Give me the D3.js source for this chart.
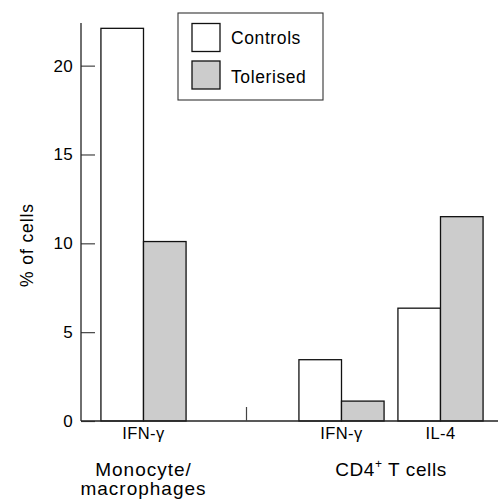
<!DOCTYPE html>
<html>
<head>
<meta charset="utf-8">
<script src="https://cdn.jsdelivr.net/npm/d3@7"></script>
<style>
  html, body { margin: 0; padding: 0; background: #fff; }
  svg text { font-family: "Liberation Sans", Arial, Helvetica, sans-serif; fill: #000; }
</style>
</head>
<body>
<script>
// ---- data ----
const slots = ["mono-IFN", "gap", "cd4-IFN", "cd4-IL4"];
const barSlots = ["mono-IFN", "cd4-IFN", "cd4-IL4"];
const slotLabels = ["IFN-γ", "", "IFN-γ", "IL-4"];
const seriesNames = ["Controls", "Tolerised"];
const controls = [22.1, 3.45, 6.35];
const tolerised = [10.1, 1.12, 11.5];
const yTicks = [0, 5, 10, 15, 20];
const seriesColors = ["#ffffff", "#cccccc"];

const W = 498, H = 503;
const svg = d3.select("body").append("svg").attr("width", W).attr("height", H);

const axisX = 81, baseY = 421, topY = 23;
const y = d3.scaleLinear().domain([0, 22.4]).range([baseY, topY]);
const x = d3.scaleBand().domain(slots).range([94, 490]).paddingInner(0.14).paddingOuter(0.07);
const xs = d3.scaleBand().domain(seriesNames).range([0, x.bandwidth()]);

// bars
const rows = [];
barSlots.forEach((s, i) => {
  rows.push({ slot: s, series: "Controls", v: controls[i] });
  rows.push({ slot: s, series: "Tolerised", v: tolerised[i] });
});
const color = d3.scaleOrdinal().domain(seriesNames).range(seriesColors);
svg.append("g").selectAll("rect").data(rows).join("rect")
  .attr("x", d => x(d.slot) + xs(d.series))
  .attr("y", d => y(d.v))
  .attr("width", xs.bandwidth())
  .attr("height", d => y(0) - y(d.v))
  .attr("fill", d => color(d.series))
  .attr("stroke", "#111")
  .attr("stroke-width", 1.3);

// y axis
const yAxis = d3.axisLeft(y).tickValues(yTicks).tickSizeInner(-14).tickSizeOuter(0).tickPadding(8);
const gy = svg.append("g").attr("transform", `translate(${axisX},0)`).call(yAxis);
gy.select(".domain").remove();
gy.selectAll(".tick line").attr("stroke", "#444").attr("stroke-width", 1.2);
gy.selectAll(".tick text").attr("font-size", 17).style("letter-spacing", "0.3px").attr("fill", "#000");
svg.append("line").attr("x1", axisX).attr("x2", axisX).attr("y1", topY).attr("y2", baseY)
  .attr("stroke", "#222").attr("stroke-width", 1.3);

// x axis baseline
svg.append("line").attr("x1", axisX).attr("x2", W).attr("y1", baseY).attr("y2", baseY)
  .attr("stroke", "#222").attr("stroke-width", 1.3);
// divider tick in gap
svg.append("line")
  .attr("x1", x("gap") + x.bandwidth() / 2 + 4).attr("x2", x("gap") + x.bandwidth() / 2 + 4)
  .attr("y1", baseY - 14).attr("y2", baseY)
  .attr("stroke", "#444").attr("stroke-width", 1.2);

// category labels
svg.append("g").selectAll("text").data(slots.map((s, i) => ({ s, t: slotLabels[i] })).filter(d => d.t))
  .join("text")
  .attr("x", d => x(d.s) + x.bandwidth() / 2)
  .attr("y", 439)
  .attr("text-anchor", "middle")
  .attr("font-size", 16.5)
  .style("letter-spacing", "0.4px")
  .text(d => d.t);

// group labels
const mono = svg.append("text").attr("text-anchor", "middle").attr("font-size", 19).style("letter-spacing", "1px");
mono.append("tspan").attr("x", x("mono-IFN") + x.bandwidth() / 2).attr("y", 476).text("Monocyte/");
mono.append("tspan").attr("x", x("mono-IFN") + x.bandwidth() / 2).attr("y", 495).text("macrophages");

const cdX = (x("cd4-IFN") + x("cd4-IL4") + x.bandwidth()) / 2;
const cd = svg.append("text").attr("x", cdX).attr("y", 476).attr("text-anchor", "middle")
  .attr("font-size", 19).style("letter-spacing", "0.6px");
cd.append("tspan").text("CD4");
cd.append("tspan").attr("font-size", 12).attr("dy", -8).text("+");
cd.append("tspan").attr("dy", 8).text(" T cells");

// y label
svg.append("text")
  .attr("transform", `translate(33,${(topY + baseY) / 2 + 23}) rotate(-90)`)
  .attr("text-anchor", "middle")
  .attr("font-size", 17.5)
  .style("letter-spacing", "0.9px")
  .text("% of cells");

// legend
const lg = svg.append("g").attr("transform", "translate(178,13)");
lg.append("rect").attr("width", 145).attr("height", 87).attr("fill", "#fff")
  .attr("stroke", "#333").attr("stroke-width", 1.1);
seriesNames.forEach((n, i) => {
  lg.append("rect").attr("x", 14).attr("y", 10.5 + i * 37.5).attr("width", 28).attr("height", 28)
    .attr("fill", seriesColors[i]).attr("stroke", "#111").attr("stroke-width", 1.3);
  lg.append("text").attr("x", 53).attr("y", 31 + i * 38.5).attr("font-size", 17.5)
    .style("letter-spacing", "0.6px").text(n);
});
</script>
</body>
</html>
